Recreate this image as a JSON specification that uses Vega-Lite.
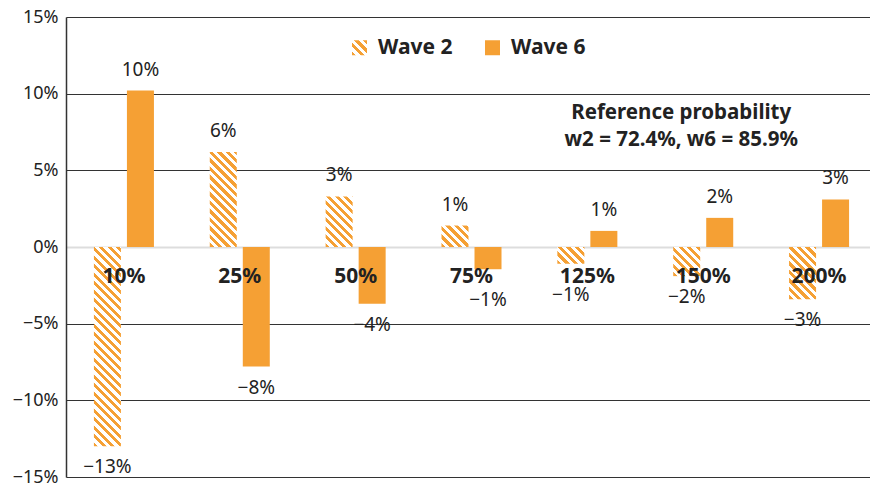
{
  "$schema": "https://vega.github.io/schema/vega-lite/v6.json",
  "width": 811,
  "height": 460,
  "autosize": {"type": "none"},
  "padding": {"left": 66, "top": 17, "right": 0, "bottom": 7},
  "background": "white",
  "config": {"view": {"stroke": null}, "font": "Noto Sans"},
  "params": [
    {"name": "hatch", "value": [{"offset":0,"color":"#F5A034"},{"offset":0.0185,"color":"#F5A034"},{"offset":0.0185,"color":"#fff"},{"offset":0.037,"color":"#fff"},{"offset":0.037,"color":"#F5A034"},{"offset":0.0556,"color":"#F5A034"},{"offset":0.0556,"color":"#fff"},{"offset":0.0741,"color":"#fff"},{"offset":0.0741,"color":"#F5A034"},{"offset":0.0926,"color":"#F5A034"},{"offset":0.0926,"color":"#fff"},{"offset":0.1111,"color":"#fff"},{"offset":0.1111,"color":"#F5A034"},{"offset":0.1296,"color":"#F5A034"},{"offset":0.1296,"color":"#fff"},{"offset":0.1481,"color":"#fff"},{"offset":0.1481,"color":"#F5A034"},{"offset":0.1667,"color":"#F5A034"},{"offset":0.1667,"color":"#fff"},{"offset":0.1852,"color":"#fff"},{"offset":0.1852,"color":"#F5A034"},{"offset":0.2037,"color":"#F5A034"},{"offset":0.2037,"color":"#fff"},{"offset":0.2222,"color":"#fff"},{"offset":0.2222,"color":"#F5A034"},{"offset":0.2407,"color":"#F5A034"},{"offset":0.2407,"color":"#fff"},{"offset":0.2593,"color":"#fff"},{"offset":0.2593,"color":"#F5A034"},{"offset":0.2778,"color":"#F5A034"},{"offset":0.2778,"color":"#fff"},{"offset":0.2963,"color":"#fff"},{"offset":0.2963,"color":"#F5A034"},{"offset":0.3148,"color":"#F5A034"},{"offset":0.3148,"color":"#fff"},{"offset":0.3333,"color":"#fff"},{"offset":0.3333,"color":"#F5A034"},{"offset":0.3519,"color":"#F5A034"},{"offset":0.3519,"color":"#fff"},{"offset":0.3704,"color":"#fff"},{"offset":0.3704,"color":"#F5A034"},{"offset":0.3889,"color":"#F5A034"},{"offset":0.3889,"color":"#fff"},{"offset":0.4074,"color":"#fff"},{"offset":0.4074,"color":"#F5A034"},{"offset":0.4259,"color":"#F5A034"},{"offset":0.4259,"color":"#fff"},{"offset":0.4444,"color":"#fff"},{"offset":0.4444,"color":"#F5A034"},{"offset":0.463,"color":"#F5A034"},{"offset":0.463,"color":"#fff"},{"offset":0.4815,"color":"#fff"},{"offset":0.4815,"color":"#F5A034"},{"offset":0.5,"color":"#F5A034"},{"offset":0.5,"color":"#fff"},{"offset":0.5185,"color":"#fff"},{"offset":0.5185,"color":"#F5A034"},{"offset":0.537,"color":"#F5A034"},{"offset":0.537,"color":"#fff"},{"offset":0.5556,"color":"#fff"},{"offset":0.5556,"color":"#F5A034"},{"offset":0.5741,"color":"#F5A034"},{"offset":0.5741,"color":"#fff"},{"offset":0.5926,"color":"#fff"},{"offset":0.5926,"color":"#F5A034"},{"offset":0.6111,"color":"#F5A034"},{"offset":0.6111,"color":"#fff"},{"offset":0.6296,"color":"#fff"},{"offset":0.6296,"color":"#F5A034"},{"offset":0.6481,"color":"#F5A034"},{"offset":0.6481,"color":"#fff"},{"offset":0.6667,"color":"#fff"},{"offset":0.6667,"color":"#F5A034"},{"offset":0.6852,"color":"#F5A034"},{"offset":0.6852,"color":"#fff"},{"offset":0.7037,"color":"#fff"},{"offset":0.7037,"color":"#F5A034"},{"offset":0.7222,"color":"#F5A034"},{"offset":0.7222,"color":"#fff"},{"offset":0.7407,"color":"#fff"},{"offset":0.7407,"color":"#F5A034"},{"offset":0.7593,"color":"#F5A034"},{"offset":0.7593,"color":"#fff"},{"offset":0.7778,"color":"#fff"},{"offset":0.7778,"color":"#F5A034"},{"offset":0.7963,"color":"#F5A034"},{"offset":0.7963,"color":"#fff"},{"offset":0.8148,"color":"#fff"},{"offset":0.8148,"color":"#F5A034"},{"offset":0.8333,"color":"#F5A034"},{"offset":0.8333,"color":"#fff"},{"offset":0.8519,"color":"#fff"},{"offset":0.8519,"color":"#F5A034"},{"offset":0.8704,"color":"#F5A034"},{"offset":0.8704,"color":"#fff"},{"offset":0.8889,"color":"#fff"},{"offset":0.8889,"color":"#F5A034"},{"offset":0.9074,"color":"#F5A034"},{"offset":0.9074,"color":"#fff"},{"offset":0.9259,"color":"#fff"},{"offset":0.9259,"color":"#F5A034"},{"offset":0.9444,"color":"#F5A034"},{"offset":0.9444,"color":"#fff"},{"offset":0.963,"color":"#fff"},{"offset":0.963,"color":"#F5A034"},{"offset":0.9815,"color":"#F5A034"},{"offset":0.9815,"color":"#fff"},{"offset":1,"color":"#fff"}]}
  ],
  "data": {
    "values": [
      {"cat": "10%", "wave": "Wave 2", "value": -0.130},
      {"cat": "10%", "wave": "Wave 6", "value": 0.102},
      {"cat": "25%", "wave": "Wave 2", "value": 0.062},
      {"cat": "25%", "wave": "Wave 6", "value": -0.078},
      {"cat": "50%", "wave": "Wave 2", "value": 0.033},
      {"cat": "50%", "wave": "Wave 6", "value": -0.037},
      {"cat": "75%", "wave": "Wave 2", "value": 0.014},
      {"cat": "75%", "wave": "Wave 6", "value": -0.0145},
      {"cat": "125%", "wave": "Wave 2", "value": -0.011},
      {"cat": "125%", "wave": "Wave 6", "value": 0.0105},
      {"cat": "150%", "wave": "Wave 2", "value": -0.019},
      {"cat": "150%", "wave": "Wave 6", "value": 0.019},
      {"cat": "200%", "wave": "Wave 2", "value": -0.034},
      {"cat": "200%", "wave": "Wave 6", "value": 0.031}
    ]
  },
  "layer": [
    {
      "mark": {"type": "bar"},
      "encoding": {
        "x": {"field": "cat", "type": "nominal", "scale": {"domain": ["10%", "25%", "50%", "75%", "125%", "150%", "200%"], "paddingInner": 0.482, "paddingOuter": 0.241}, "axis": null},
        "xOffset": {"field": "wave", "type": "nominal", "scale": {"domain": ["Wave 2", "Wave 6"], "paddingInner": 0.182, "paddingOuter": 0}},
        "y": {
          "field": "value", "type": "quantitative",
          "scale": {"domain": [-0.15, 0.15], "nice": false, "zero": false},
          "axis": {
            "values": [-0.15, -0.1, -0.05, 0, 0.05, 0.1, 0.15],
            "format": ".0%", "title": null, "ticks": false,
            "domainColor": "#333333", "domainWidth": 1.5,
            "gridColor": {"condition": {"test": "datum.value === 0", "value": "#dddddd"}, "value": "#333333"},
            "gridWidth": {"condition": {"test": "datum.value === 0", "value": 2}, "value": 1.2},
            "labelFontSize": 18, "labelColor": "#222222", "labelPadding": 8, "labelFlush": false
          }
        },
        "fill": {
          "field": "wave", "type": "nominal",
          "scale": {"domain": ["Wave 2", "Wave 6"], "range": [{"expr": "{gradient: 'linear', x1: 0, y1: 1, x2: 7.65, y2: -6.65, stops: hatch}"}, "#F5A034"]},
          "legend": {"orient": "none", "legendX": 283, "legendY": 20, "direction": "horizontal", "title": null, "symbolType": "square", "symbolSize": 225, "symbolStrokeWidth": 0, "labelFontSize": 21, "labelFontWeight": "bold", "labelColor": "#222222", "labelOffset": 8, "columnPadding": 29, "padding": 0},
          "condition": [
            {"test": "datum.wave === 'Wave 2' && datum.cat === '10%'", "value": {"expr": "{gradient: 'linear', x1: 0, y1: 1, x2: 0.15319, y2: -0.13079, stops: hatch}"}},
            {"test": "datum.wave === 'Wave 2' && datum.cat === '25%'", "value": {"expr": "{gradient: 'linear', x1: 0, y1: 1, x2: 0.63441, y2: -1.23386, stops: hatch}"}},
            {"test": "datum.wave === 'Wave 2' && datum.cat === '50%'", "value": {"expr": "{gradient: 'linear', x1: 0, y1: 1, x2: 1.88377, y2: -2.53031, stops: hatch}"}},
            {"test": "datum.wave === 'Wave 2' && datum.cat === '75%'", "value": {"expr": "{gradient: 'linear', x1: 0, y1: 1, x2: 5.2073, y2: -3.1407, stops: hatch}"}},
            {"test": "datum.wave === 'Wave 2' && datum.cat === '125%'", "value": {"expr": "{gradient: 'linear', x1: 0, y1: 1, x2: 6.1134, y2: -2.8197, stops: hatch}"}},
            {"test": "datum.wave === 'Wave 2' && datum.cat === '150%'", "value": {"expr": "{gradient: 'linear', x1: 0, y1: 1, x2: 3.9278, y2: -3.2376, stops: hatch}"}},
            {"test": "datum.wave === 'Wave 2' && datum.cat === '200%'", "value": {"expr": "{gradient: 'linear', x1: 0, y1: 1, x2: 1.7979, y2: -2.4713, stops: hatch}"}}
          ]
        }
      }
    },
    {
      "transform": [{"filter": "datum.wave === 'Wave 2'"}],
      "mark": {"type": "text", "fontSize": 21, "fontWeight": "bold", "color": "#222222", "baseline": "middle", "dy": 30},
      "encoding": {
        "x": {"field": "cat", "type": "nominal"},
        "y": {"datum": 0, "type": "quantitative"},
        "text": {"field": "cat"}
      }
    },
    {
      "transform": [{"filter": "datum.value >= 0"}],
      "mark": {"type": "text", "fontSize": 19, "color": "#222222", "baseline": "middle", "dy": -21},
      "encoding": {
        "x": {"field": "cat", "type": "nominal"},
        "xOffset": {"field": "wave", "type": "nominal"},
        "y": {"field": "value", "type": "quantitative"},
        "text": {"field": "value", "format": ".0%"}
      }
    },
    {
      "transform": [{"filter": "datum.value < -0.016"}],
      "mark": {"type": "text", "fontSize": 19, "color": "#222222", "baseline": "middle", "dy": 21},
      "encoding": {
        "x": {"field": "cat", "type": "nominal"},
        "xOffset": {"field": "wave", "type": "nominal"},
        "y": {"field": "value", "type": "quantitative"},
        "text": {"field": "value", "format": ".0%"}
      }
    },
    {
      "transform": [{"filter": "datum.value < 0 && datum.value >= -0.016"}],
      "mark": {"type": "text", "fontSize": 19, "color": "#222222", "baseline": "middle", "dy": 31},
      "encoding": {
        "x": {"field": "cat", "type": "nominal"},
        "xOffset": {"field": "wave", "type": "nominal"},
        "y": {"field": "value", "type": "quantitative"},
        "text": {"field": "value", "format": ".0%"}
      }
    },
    {
      "data": {"values": [{"note": "Reference probability\nw2 = 72.4%, w6 = 85.9%"}]},
      "mark": {"type": "text", "lineBreak": "\n", "fontSize": 20.5, "fontWeight": "bold", "color": "#222222", "align": "center", "baseline": "middle", "lineHeight": 27, "dx": -22},
      "encoding": {
        "x": {"datum": "150%"},
        "y": {"datum": 0.0875},
        "text": {"field": "note"}
      }
    }
  ]
}
